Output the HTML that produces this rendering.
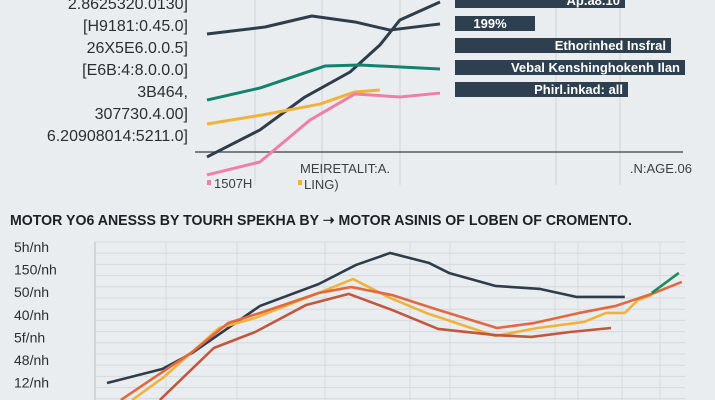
<!DOCTYPE html>
<html><head><meta charset="utf-8"><style>
html,body{margin:0;padding:0;background:#e9edef;}
svg{display:block;font-family:"Liberation Sans",sans-serif;}
</style></head><body>
<svg width="715" height="400" viewBox="0 0 715 400">
<rect width="715" height="400" fill="#e9edef"/>
<g id="topg"></g>
<g id="legend"></g>
<text x="10" y="225" font-size="15" font-weight="bold" fill="#1c2126" textLength="622" lengthAdjust="spacingAndGlyphs">MOTOR YO6 ANESSS BY TOURH SPEKHA BY ➝ MOTOR ASINIS OF LOBEN OF CROMENTO.</text>
<g id="botg"></g>
</svg>
<script>
const NS="http://www.w3.org/2000/svg";
// ---- top chart data ----
const topYTicks=["2.8625320.0130]","[H9181:0.45.0]","26X5E6.0.0.5]","[E6B:4:8.0.0.0]","3B464,","307730.4.00]","6.20908014:5211.0]"];
const topSeriesNames=["dark-a","dark-b","teal","yellow","pink"];
const topColors=["#2f3d4b","#2f3d4b","#12836d","#f0b23a","#ee7fa6"];
const topX=[[0,24.9,45,63.5,78.5,100],[0,22.7,42,61.4,74.2,82.8,100],[0,22.7,50.6,65.7,100],[0,23.6,48.5,63.5,74.2],[0,22.7,44.2,63.5,82.8,100]];
const topY=[[81.1,85,91.1,87.8,83.3,86.7],[12.8,27.8,46.1,60,75,88.9,98.9],[44.4,51.1,63.3,63.9,61.7],[31.1,36.1,42.2,48.9,50],[2.8,10,33.3,47.8,46.1,48.3]];
const legendLabels=["Ap.a8.10","199%","Ethorinhed Insfral","Vebal Kenshinghokenh Ilan","Phirl.inkad: all"];
const legendWidths=[170,80,216,230,173];
// ---- bottom chart data ----
const botYTicks=["5h/nh","150/nh","50/nh","40/nh","5f/nh","48/nh","12/nh"];
const botNames=["dark","yellow","orange","red","green"];
const botColors=["#2f3d4b","#f0b23a","#e0693f","#c0573f","#1f8a5e"];
const botX=[[2,11.2,16.2,27.5,37.3,43.5,49.2,55.7,59,66.7,74.2,80.3,88.3],[6.2,11.5,20.7,26.7,37.3,43,49.2,55.2,66.7,73.8,81.5,85.2,88.3,90.5,92.8],[4.3,16.2,22.2,27.5,37.3,42.7,49.5,57.2,67,73.2,80.7,86.8,92.8,97.8],[10.8,19.8,26.7,35.2,42.3,49.5,57.2,66.7,72.7,79.2,86],[92.8,97.3]];
const botY=[[10.6,19.4,29.4,58.8,72.5,84.4,91.9,85.6,79.4,71.3,69.4,64.4,64.4],[0,14.4,45,51.3,66.9,75.6,63.8,54.4,40,45,48.8,54.4,54.4,62.5,65.6],[0,30,48.1,54.4,66.9,70.6,65.6,56.3,45,48.1,54.4,58.8,66.3,73.8],[0,32.5,42.5,59.4,66.3,56.3,44.4,40.6,39.4,42.5,45],[66.9,79.4]];

function el(t,a,p){const e=document.createElementNS(NS,t);for(const k in a)e.setAttribute(k,a[k]);p.appendChild(e);return e;}
const topG=document.getElementById('topg'),botG=document.getElementById('botg'),legG=document.getElementById('legend');
const tx=v=>207+v*2.33, ty=v=>180-v*1.8;
const bx=v=>95+v*6, by=v=>400-v*1.6;

[255,322,400,556,620].forEach(x=>{const l=el('line',{x1:x,x2:x,y1:0,y2:185,stroke:'#d3d8db','stroke-width':1.2},topG);

});
const ax=el('line',{x1:195,x2:683,y1:152,y2:152,stroke:'#555b60','stroke-width':1.5},topG);


topYTicks.forEach((s,i)=>{const t=el('text',{x:188,y:9+i*22,'text-anchor':'end','font-size':16,fill:'#2a2f33'},topG);t.textContent=s;

});
topX.forEach((xs,s)=>{const p=el('polyline',{points:xs.map((x,i)=>tx(x)+','+ty(topY[s][i])).join(' '),fill:'none',stroke:topColors[s],'stroke-width':3,'stroke-linejoin':'round'},topG);

});
[["1507H",214,188],["MEIRETALIT:A.",300,173],["LING)",304,189],[".N:AGE.06",692,173]].forEach((a,i)=>{const t=el('text',{x:a[1],y:a[2],'font-size':13,fill:'#3a3f44','text-anchor':i==3?'end':'start'},topG);t.textContent=a[0];

});
el('rect',{x:207,y:180,width:4,height:5,fill:'#ee7fa6'},topG);
el('rect',{x:298,y:180,width:4,height:5,fill:'#f0b23a'},topG);
const ly=[-7,16,38,60,82];
legendLabels.forEach((s,i)=>{const r=el('rect',{x:455,y:ly[i],width:legendWidths[i],height:15,fill:'#2e4050'},legG);


const t=el('text',{x:i==1?490:455+legendWidths[i]-5,y:ly[i]+12,'text-anchor':i==1?'middle':'end','font-size':13,'font-weight':'bold',fill:'#fff'},legG);t.textContent=s;

});
for(let y=242;y<=400;y+=11.2){const l=el('line',{x1:95,x2:685,y1:y,y2:y,stroke:'#d5dadd','stroke-width':1},botG);

}
[166,237,325,410,450,555,578,622,660].forEach(x=>{const l=el('line',{x1:x,x2:x,y1:242,y2:400,stroke:'#d5dadd','stroke-width':1},botG);

});
const yax=el('line',{x1:95,x2:95,y1:242,y2:400,stroke:'#c9ced1','stroke-width':1.5},botG);


botYTicks.forEach((s,i)=>{const t=el('text',{x:14,y:252+i*22.6,'font-size':14,fill:'#2a2f33'},botG);t.textContent=s;

});
botX.forEach((xs,s)=>{const p=el('polyline',{points:xs.map((x,i)=>bx(x)+','+by(botY[s][i])).join(' '),fill:'none',stroke:botColors[s],'stroke-width':2.6,'stroke-linejoin':'round'},botG);

});
</script>
</body></html>
